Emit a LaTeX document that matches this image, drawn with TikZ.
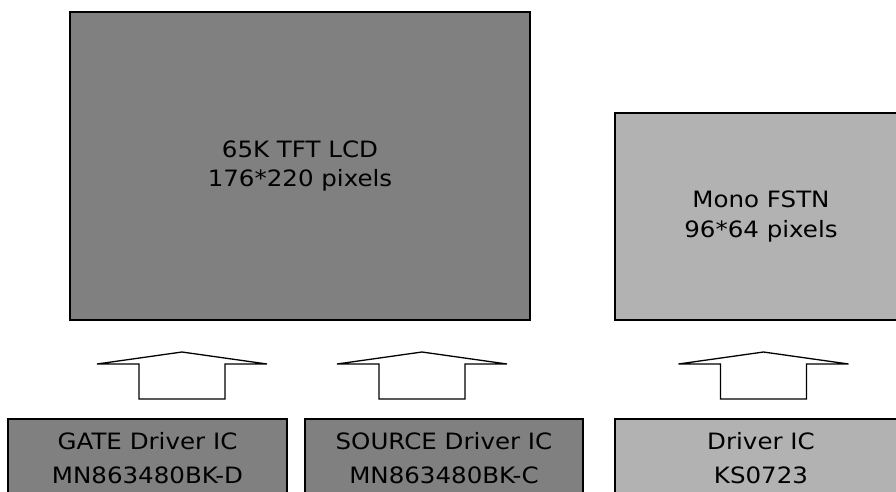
\documentclass[tikz,border=0pt]{standalone}
\usepackage{fontspec}
\setmainfont{DejaVu Sans}[FakeStretch=1.09]
\usetikzlibrary{positioning}

\definecolor{darkpanel}{RGB}{128,128,128}
\definecolor{lightpanel}{RGB}{178,178,178}

\begin{document}
\begin{tikzpicture}[
  x=1pt, y=-1pt,
  every node/.style={draw, line width=1.6pt, align=center, inner sep=0pt,
    font=\fontsize{22.5}{29.5}\selectfont},
  dark/.style={fill=darkpanel},
  light/.style={fill=lightpanel},
  chip/.style={minimum height=78pt, font=\fontsize{22.5}{34}\selectfont},
  pics/uparr/.style={code={
    \draw[line width=1.3pt, line join=miter] (0,0) -- (-85,12) -- (-43,12) -- (-43,47)
      -- (43,47) -- (43,12) -- (85,12) -- cycle;
  }}
]
\clip (0,0) rectangle (896,492);

% displays
\node[dark, minimum width=460pt, minimum height=308pt] (tft) at (300,166)
  {65K TFT LCD\\176*220 pixels};
\node[light, minimum width=292pt, minimum height=207pt] (fstn) at (761,216.5)
  {Mono FSTN\\96*64 pixels};

% driver ICs
\node[dark, chip, minimum width=279pt] (gate) at (147.5,458)
  {GATE Driver IC\\MN863480BK-D};
\node[dark, chip, minimum width=278pt] (source) at (444,458)
  {SOURCE Driver IC\\MN863480BK-C};
\node[light, chip, minimum width=292pt] (drv) at (761,458)
  {Driver IC\\KS0723};

% block arrows
\pic at (182,352) {uparr};
\pic at (422,352) {uparr};
\pic at (763.5,352) {uparr};
\end{tikzpicture}
\end{document}
